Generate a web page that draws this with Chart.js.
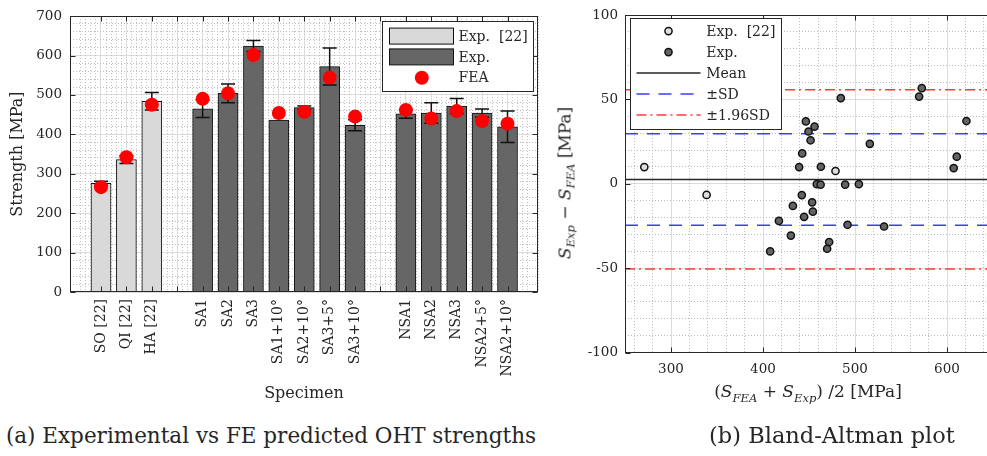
<!DOCTYPE html>
<html>
<head>
<meta charset="utf-8">
<script src="https://cdn.jsdelivr.net/npm/chart.js@4.4.0/dist/chart.umd.min.js"></script>
<style>
  html, body { margin: 0; padding: 0; background: #fff; width: 987px; height: 456px; overflow: hidden; }
  body { position: relative; font-family: 'DejaVu Serif', serif; color: #262626; }
  #wrapA { position: absolute; left: 0; top: 0; width: 545px; height: 407px; }
  #wrapB { position: absolute; left: 548px; top: 0; width: 452px; height: 400px; }
  .txt { position: absolute; white-space: nowrap; transform: translate(-50%, -50%); }
  .axt { font-size: 17px; }
  .cap { font-size: 21.5px; }
  sub { font-size: 68%; vertical-align: -0.35em; }
</style>
</head>
<body>
<div id="wrapA"><canvas id="strengthChart"></canvas></div>
<div id="wrapB"><canvas id="blandChart"></canvas></div>

<div class="txt axt" style="left:566px; top:183px; transform: translate(-50%, -50%) rotate(-90deg);"><i>S</i><sub><i>Exp</i></sub> &minus; <i>S</i><sub><i>FEA</i></sub> [MPa]</div>
<div class="txt axt" style="left:808px; top:393px;">(<i>S</i><sub><i>FEA</i></sub> + <i>S</i><sub><i>Exp</i></sub>) /2 [MPa]</div>
<div class="txt cap" style="left:271px; top:435px;">(a) Experimental vs FE predicted OHT strengths</div>
<div class="txt cap" style="left:832px; top:435px; font-size:22.5px;">(b) Bland-Altman plot</div>

<script>
// (a) strengths per specimen, '' = empty slot between groups
const specimens = ['SO [22]', 'QI [22]', 'HA [22]', '', 'SA1', 'SA2', 'SA3', 'SA1+10°', 'SA2+10°', 'SA3+5°', 'SA3+10°', '', 'NSA1', 'NSA2', 'NSA3', 'NSA2+5°', 'NSA2+10°'];
const refSpecimens = ['SO [22]', 'QI [22]', 'HA [22]'];
const refStrength = [276, 336, 484];
const refError = [5, 10, 22];
const expSpecimens = ['SA1', 'SA2', 'SA3', 'SA1+10°', 'SA2+10°', 'SA3+5°', 'SA3+10°', 'NSA1', 'NSA2', 'NSA3', 'NSA2+5°', 'NSA2+10°'];
const expStrength = [465, 504, 624, 436, 468, 572, 423, 452, 454, 472, 454, 419];
const expError = [22, 24, 14, 0, 4, 47, 14, 11, 26, 19, 10, 40];
const feaStrength = [266, 342, 475, 490, 504, 601, 454, 457, 544, 445, 462, 440, 459, 434, 427];
const strengthTicks = [0, 100, 200, 300, 400, 500, 600, 700];

// (b) Bland-Altman: mean of FEA and Exp vs difference
const refMeanStrength = [271.0, 338.7, 478.8];
const refDiff = [9.9, -6.6, 7.6];
const expMeanStrength = [484.6, 569.7, 572.6, 621.1, 446.6, 456.0, 449.5, 451.7, 516.1, 442.6, 610.6, 439.3, 462.9, 607.3, 458.5,
                         462.6, 489.3, 504.2, 442.2, 453.4, 432.5, 454.2, 444.7, 417.3, 491.9, 531.6, 430.3, 471.9, 469.7, 407.8];
const expDiff = [50.8, 51.7, 56.7, 37.2, 37.0, 33.9, 31.0, 25.8, 23.7, 18.0, 16.1, 9.9, 10.1, 9.3, -0.2,
                 -0.5, -0.5, -0.2, -6.7, -11.0, -13.1, -16.5, -19.6, -22.0, -24.3, -25.3, -30.7, -34.5, -38.5, -40.1];
const meanDiff = 2.6;
const sdDiff = 27.1;
const baTicksX = [300, 400, 500, 600];
const baTicksY = [-100, -50, 0, 50, 100];

Chart.defaults.font.family = "'DejaVu Serif', serif";
Chart.defaults.font.size = 13.5;
Chart.defaults.color = '#262626';
Chart.defaults.animation = false;

const slot = name => specimens.indexOf(name) + 1;
const pts = (names, vals) => names.map((n, i) => ({x: slot(n), y: vals[i]}));
const isWhole = v => Math.abs(v - Math.round(v)) < 1e-6;
const range = (a, b, s) => { const out = []; for (let v = a; v <= b + 1e-9; v += s) out.push({value: +v.toFixed(4)}); return out; };

const majorGrid = '#dcdcdc';
const minorGrid = '#bdbdbd';

function minorAxis(pos, min, max, step, majorStep) {
  return {
    type: 'linear', position: pos, min: min, max: max, offset: false,
    afterBuildTicks: s => { s.ticks = range(Math.ceil(min / step) * step, max, step); },
    afterFit: s => { if (pos === 'bottom') s.height = 0; else s.width = 0; },
    ticks: {display: false},
    grid: {drawTicks: false, offset: false, color: c => isWhole(c.tick.value / majorStep) ? 'rgba(0,0,0,0)' : minorGrid},
    border: {display: false, dash: [1, 2]}
  };
}

// box with inward ticks, matlab style
const frame = {
  id: 'frame',
  afterDatasetsDraw(chart) {
    const {ctx, chartArea: a, scales} = chart;
    const L = Math.round(a.left) + 0.5, R = Math.round(a.right) - 0.5, T = Math.round(a.top) + 0.5, B = Math.round(a.bottom) - 0.5;
    ctx.save();
    ctx.strokeStyle = '#262626';
    ctx.lineWidth = 1;
    ctx.beginPath();
    scales.x.ticks.forEach(t => {
      const p = Math.round(scales.x.getPixelForValue(t.value)) + 0.5;
      ctx.moveTo(p, B); ctx.lineTo(p, B - 5);
      ctx.moveTo(p, T); ctx.lineTo(p, T + 5);
    });
    scales.y.ticks.forEach(t => {
      const p = Math.round(scales.y.getPixelForValue(t.value)) + 0.5;
      ctx.moveTo(L, p); ctx.lineTo(L + 5, p);
      ctx.moveTo(R, p); ctx.lineTo(R - 5, p);
    });
    ctx.stroke();
    ctx.strokeRect(L, T, R - L, B - T);
    ctx.restore();
  }
};

const errorBars = {
  id: 'errorBars',
  afterDatasetDraw(chart, args) {
    const ds = chart.data.datasets[args.index];
    if (!ds.errors) return;
    const {ctx, scales: {x, y}} = chart;
    ctx.save();
    ctx.strokeStyle = '#111';
    ctx.lineWidth = 1.5;
    ds.data.forEach((p, i) => {
      const e = ds.errors[i];
      if (!e) return;
      const px = x.getPixelForValue(p.x);
      const top = y.getPixelForValue(p.y + e), bot = y.getPixelForValue(p.y - e);
      ctx.beginPath();
      ctx.moveTo(px, top); ctx.lineTo(px, bot);
      ctx.moveTo(px - 7, top); ctx.lineTo(px + 7, top);
      ctx.moveTo(px - 7, bot); ctx.lineTo(px + 7, bot);
      ctx.stroke();
    });
    ctx.restore();
  }
};

const legendA = {
  id: 'legendA',
  afterDraw(chart) {
    const {ctx, chartArea: a} = chart;
    const bx = Math.round(a.right - 156) + 0.5, by = Math.round(a.top + 4.4) + 0.5, bw = 151, bh = 70;
    const ds = chart.data.datasets;
    ctx.save();
    ctx.fillStyle = '#fff';
    ctx.fillRect(bx, by, bw, bh);
    ctx.strokeStyle = '#262626';
    ctx.lineWidth = 1;
    ctx.strokeRect(bx, by, bw, bh);
    ctx.font = "14px 'DejaVu Serif'";
    ctx.textBaseline = 'middle';
    [1, 2, 0].forEach((di, r) => {
      const d = ds[di], cy = by + 14.6 + r * 20.8;
      if (d.type === 'bar') {
        ctx.fillStyle = d.backgroundColor;
        ctx.fillRect(bx + 7, cy - 8, 64, 16);
        ctx.strokeStyle = d.borderColor;
        ctx.strokeRect(bx + 7, cy - 8, 64, 16);
      } else {
        ctx.beginPath();
        ctx.arc(bx + 39.3, cy, d.pointRadius, 0, 2 * Math.PI);
        ctx.fillStyle = d.backgroundColor;
        ctx.fill();
      }
      ctx.fillStyle = '#262626';
      ctx.fillText(d.label, bx + 76, cy + 1);
    });
    ctx.restore();
  }
};

const legendB = {
  id: 'legendB',
  afterDraw(chart) {
    const {ctx, chartArea: a} = chart;
    const bx = Math.round(a.left + 5) + 0.5, by = Math.round(a.top + 2.4) + 0.5, bw = 151, bh = 111;
    const ds = chart.data.datasets;
    ctx.save();
    ctx.fillStyle = '#fff';
    ctx.fillRect(bx, by, bw, bh);
    ctx.strokeStyle = '#262626';
    ctx.lineWidth = 1;
    ctx.strokeRect(bx, by, bw, bh);
    ctx.font = "14px 'DejaVu Serif'";
    ctx.textBaseline = 'middle';
    [0, 1, 2, 3, 5].forEach((di, r) => {
      const d = ds[di], cy = by + 12.6 + r * 21;
      if (d.showLine) {
        ctx.beginPath();
        ctx.setLineDash(d.borderDash || []);
        ctx.strokeStyle = d.borderColor;
        ctx.lineWidth = d.borderWidth;
        ctx.moveTo(bx + 6, cy); ctx.lineTo(bx + 70, cy);
        ctx.stroke();
        ctx.setLineDash([]);
      } else {
        ctx.beginPath();
        ctx.arc(bx + 38, cy, d.pointRadius, 0, 2 * Math.PI);
        ctx.fillStyle = d.backgroundColor;
        ctx.fill();
        ctx.lineWidth = d.borderWidth;
        ctx.strokeStyle = d.borderColor;
        ctx.stroke();
      }
      ctx.fillStyle = '#262626';
      ctx.fillText(d.label, bx + 75.7, cy + 1);
    });
    ctx.restore();
  }
};

// (a) Experimental vs FE predicted strengths
new Chart(document.getElementById('strengthChart'), {
  data: {
    datasets: [
      {type: 'scatter', label: 'FEA', data: pts(refSpecimens.concat(expSpecimens), feaStrength),
       backgroundColor: '#ff0000', borderWidth: 0, pointRadius: 7, order: 0},
      {type: 'bar', label: 'Exp.  [22]', data: pts(refSpecimens, refStrength), errors: refError,
       backgroundColor: '#d9d9d9', borderColor: '#111', borderWidth: 1, barThickness: 20, grouped: false, order: 1},
      {type: 'bar', label: 'Exp.', data: pts(expSpecimens, expStrength), errors: expError,
       backgroundColor: '#666666', borderColor: '#111', borderWidth: 1, barThickness: 20, grouped: false, order: 2}
    ]
  },
  options: {
    responsive: true,
    maintainAspectRatio: false,
    layout: {padding: {top: 13, right: 6, left: 0, bottom: 0}},
    plugins: {legend: {display: false}, tooltip: {enabled: false}},
    scales: {
      x: {
        type: 'linear', min: -0.22, max: 18.2, offset: false,
        afterBuildTicks: s => { s.ticks = specimens.map((_, i) => ({value: i + 1})); },
        afterFit: s => { s.height = 115; s.paddingLeft = 0; s.paddingRight = 0; },
        ticks: {autoSkip: false, minRotation: 90, maxRotation: 90, padding: 7, font: {size: 14}, callback: v => specimens[v - 1]},
        grid: {color: majorGrid, drawTicks: false, offset: false},
        border: {display: false},
        title: {display: true, text: 'Specimen', font: {size: 16, lineHeight: 1.2}, padding: {top: 0, bottom: 4}}
      },
      y: {
        min: 0, max: 700,
        afterBuildTicks: s => { s.ticks = strengthTicks.map(v => ({value: v})); },
        afterFit: s => { s.width = 70; },
        ticks: {padding: 8},
        grid: {color: majorGrid, drawTicks: false},
        border: {display: false},
        title: {display: true, text: 'Strength [MPa]', font: {size: 16, lineHeight: 1.2}, padding: {top: 8, bottom: 0}}
      },
      xMinor: minorAxis('bottom', -0.22, 18.2, 0.2, 1),
      yMinor: minorAxis('left', 0, 700, 20, 100)
    }
  },
  plugins: [errorBars, frame, legendA]
});

// (b) Bland-Altman plot
const hline = (label, v, color, dash) => ({
  type: 'scatter', label: label, data: [{x: 250, y: v}, {x: 650, y: v}], showLine: true,
  borderColor: color, borderWidth: 1.5, borderDash: dash, pointRadius: 0, order: 1
});

new Chart(document.getElementById('blandChart'), {
  type: 'scatter',
  data: {
    datasets: [
      {label: 'Exp.  [22]', data: refMeanStrength.map((m, i) => ({x: m, y: refDiff[i]})),
       backgroundColor: '#dedede', borderColor: '#111', borderWidth: 1.5, pointRadius: 3.6, order: 0},
      {label: 'Exp.', data: expMeanStrength.map((m, i) => ({x: m, y: expDiff[i]})),
       backgroundColor: '#646464', borderColor: '#111', borderWidth: 1.5, pointRadius: 3.6, order: 0},
      hline('Mean', meanDiff, '#262626', []),
      hline('±SD', meanDiff + sdDiff, '#3c3cff', [13, 9]),
      hline('±SD', meanDiff - sdDiff, '#3c3cff', [13, 9]),
      hline('±1.96SD', meanDiff + 1.96 * sdDiff, '#ff3c3c', [10, 4, 2, 4]),
      hline('±1.96SD', meanDiff - 1.96 * sdDiff, '#ff3c3c', [10, 4, 2, 4])
    ]
  },
  options: {
    responsive: true,
    maintainAspectRatio: false,
    layout: {padding: {top: 13, right: 7, left: 0, bottom: 0}},
    plugins: {legend: {display: false}, tooltip: {enabled: false}},
    scales: {
      x: {
        type: 'linear', min: 250, max: 650,
        afterBuildTicks: s => { s.ticks = baTicksX.map(v => ({value: v})); },
        afterFit: s => { s.height = 47.5; },
        ticks: {padding: 9},
        grid: {color: majorGrid, drawTicks: false},
        border: {display: false}
      },
      y: {
        min: -100, max: 100,
        afterBuildTicks: s => { s.ticks = baTicksY.map(v => ({value: v})); },
        afterFit: s => { s.width = 77; },
        ticks: {padding: 7},
        grid: {color: majorGrid, drawTicks: false},
        border: {display: false}
      },
      xMinor: minorAxis('bottom', 250, 650, 20, 100),
      yMinor: minorAxis('left', -100, 100, 10, 50)
    }
  },
  plugins: [frame, legendB]
});
</script>
</body>
</html>
